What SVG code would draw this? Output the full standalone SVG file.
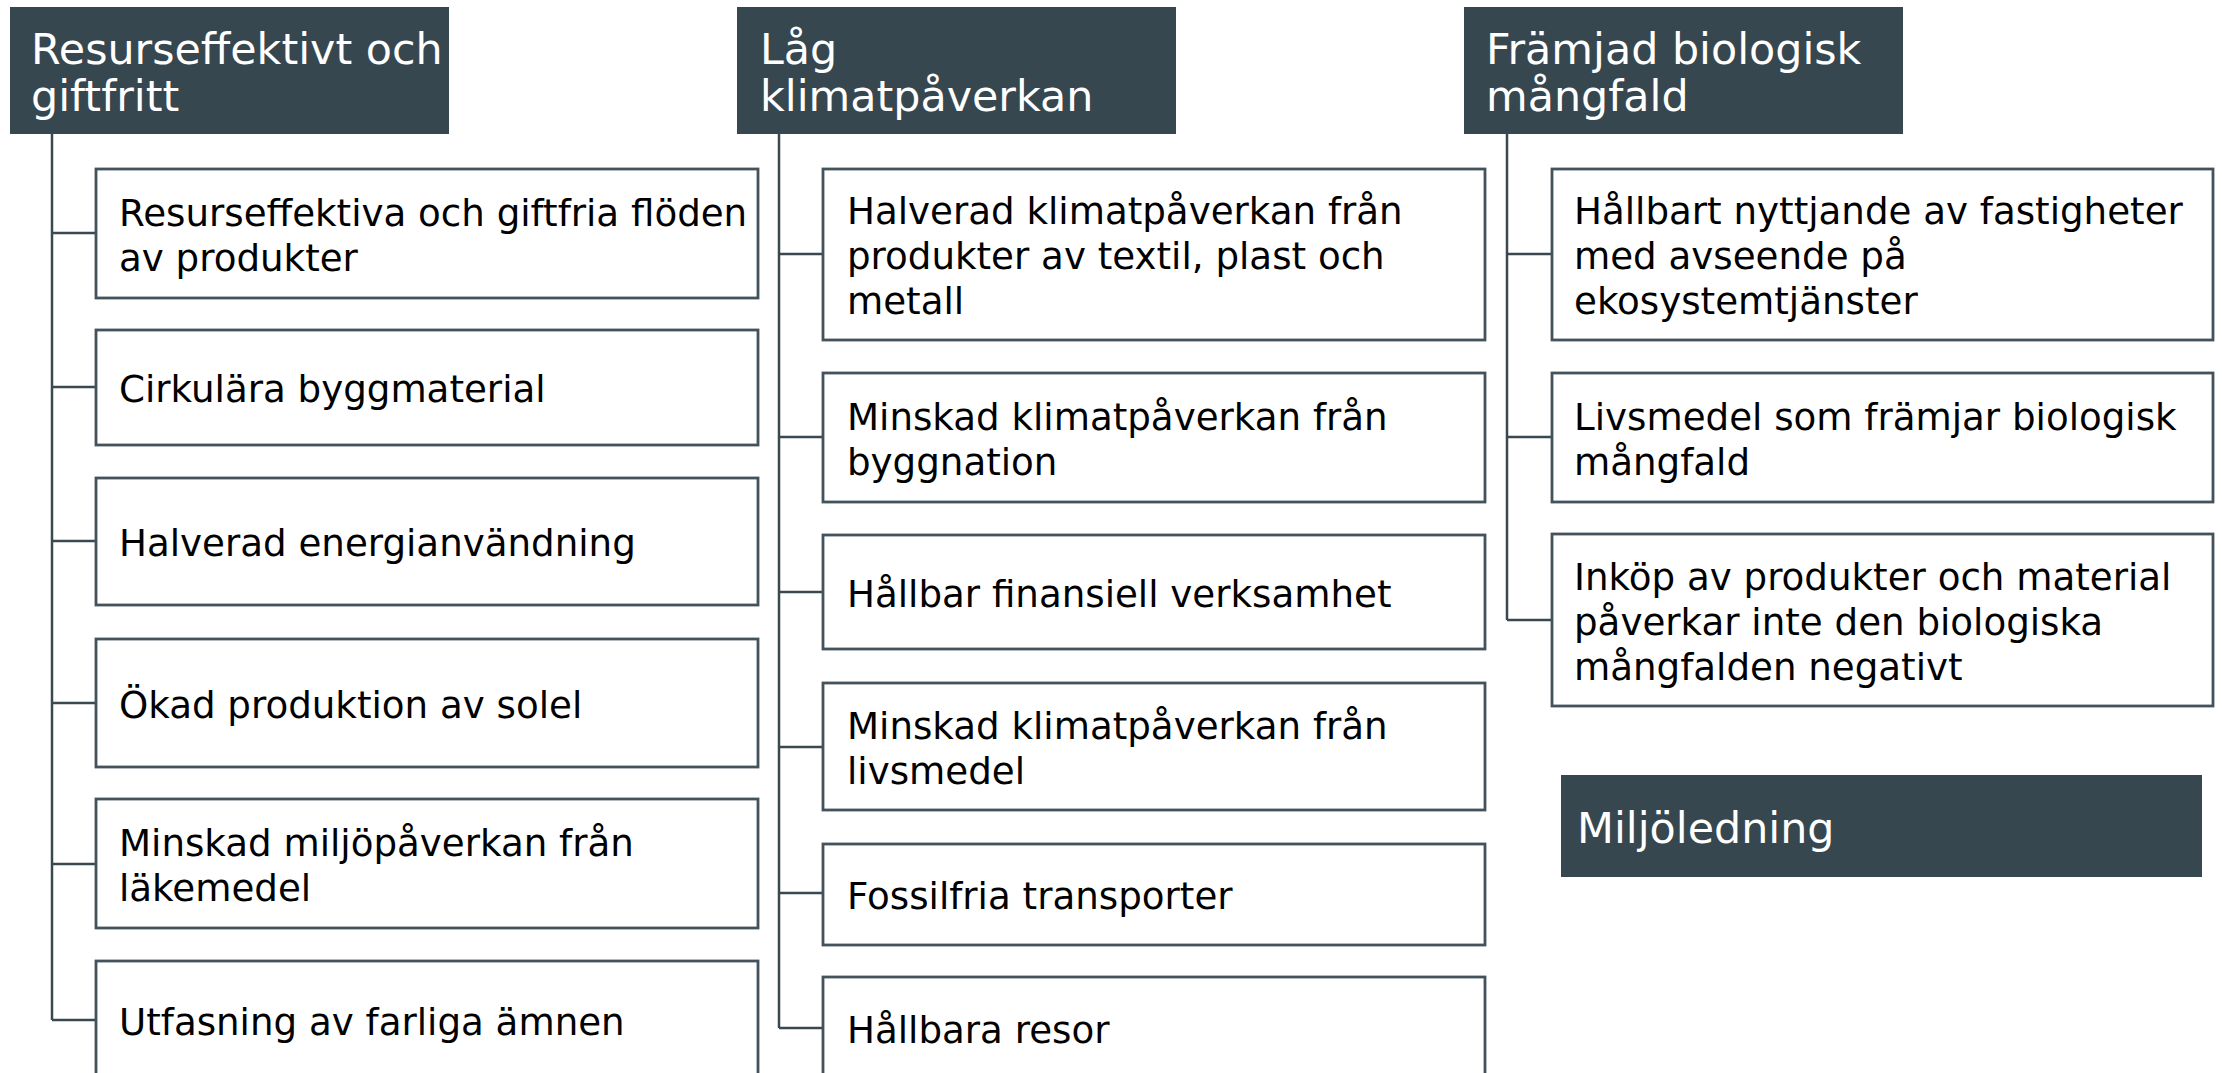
<svg xmlns="http://www.w3.org/2000/svg" width="2222" height="1073" viewBox="0 0 2222 1073">
<style>
.bg{fill:#ffffff}
.hdr{fill:#37474f}
.box{fill:#ffffff;stroke:#44525b;stroke-width:2.8}
.ht{font-family:"DejaVu Sans",Verdana,sans-serif;font-size:42.8px;fill:#ffffff}
.bt{font-family:"DejaVu Sans",Verdana,sans-serif;font-size:37.2px;fill:#000000}
.con{fill:none;stroke:#3a4850;stroke-width:2.5}
</style>
<rect class="bg" x="0" y="0" width="2222" height="1073"/>
<g id="connectors">
<path class="con" d="M52,134 V1020 M52,233 H96 M52,387 H96 M52,541 H96 M52,703 H96 M52,864 H96 M52,1020 H96"/>
<path class="con" d="M779,134 V1028 M779,254 H823 M779,437 H823 M779,592 H823 M779,747 H823 M779,893 H823 M779,1028 H823"/>
<path class="con" d="M1507,134 V620 M1507,254 H1552 M1507,437 H1552 M1507,620 H1552"/>
</g>
<g id="h1"><rect class="hdr" x="10" y="7" width="439" height="127"/><text class="ht" x="31" y="64">Resurseffektivt och</text><text class="ht" x="31" y="111">giftfritt</text></g>
<g id="h2"><rect class="hdr" x="737" y="7" width="439" height="127"/><text class="ht" x="760" y="64">Låg</text><text class="ht" x="760" y="111">klimatpåverkan</text></g>
<g id="h3"><rect class="hdr" x="1464" y="7" width="439" height="127"/><text class="ht" x="1486" y="64">Främjad biologisk</text><text class="ht" x="1486" y="111">mångfald</text></g>

<g id="c1b1"><rect class="box" x="96" y="169" width="662" height="129"/><text class="bt" x="119" y="226">Resurseffektiva och giftfria flöden</text><text class="bt" x="119" y="271">av produkter</text></g>
<g id="c1b2"><rect class="box" x="96" y="330" width="662" height="115"/><text class="bt" x="119" y="402">Cirkulära byggmaterial</text></g>
<g id="c1b3"><rect class="box" x="96" y="478" width="662" height="127"/><text class="bt" x="119" y="556">Halverad energianvändning</text></g>
<g id="c1b4"><rect class="box" x="96" y="639" width="662" height="128"/><text class="bt" x="119" y="718">Ökad produktion av solel</text></g>
<g id="c1b5"><rect class="box" x="96" y="799" width="662" height="129"/><text class="bt" x="119" y="856">Minskad miljöpåverkan från</text><text class="bt" x="119" y="901">läkemedel</text></g>
<g id="c1b6"><rect class="box" x="96" y="961" width="662" height="118"/><text class="bt" x="119" y="1035">Utfasning av farliga ämnen</text></g>

<g id="c2b1"><rect class="box" x="823" y="169" width="662" height="171"/><text class="bt" x="847" y="224">Halverad klimatpåverkan från</text><text class="bt" x="847" y="269">produkter av textil, plast och</text><text class="bt" x="847" y="314">metall</text></g>
<g id="c2b2"><rect class="box" x="823" y="373" width="662" height="129"/><text class="bt" x="847" y="430">Minskad klimatpåverkan från</text><text class="bt" x="847" y="475">byggnation</text></g>
<g id="c2b3"><rect class="box" x="823" y="535" width="662" height="114"/><text class="bt" x="847" y="607">Hållbar finansiell verksamhet</text></g>
<g id="c2b4"><rect class="box" x="823" y="683" width="662" height="127"/><text class="bt" x="847" y="739">Minskad klimatpåverkan från</text><text class="bt" x="847" y="784">livsmedel</text></g>
<g id="c2b5"><rect class="box" x="823" y="844" width="662" height="101"/><text class="bt" x="847" y="909">Fossilfria transporter</text></g>
<g id="c2b6"><rect class="box" x="823" y="977" width="662" height="102"/><text class="bt" x="847" y="1043">Hållbara resor</text></g>

<g id="c3b1"><rect class="box" x="1552" y="169" width="661" height="171"/><text class="bt" x="1574" y="224">Hållbart nyttjande av fastigheter</text><text class="bt" x="1574" y="269">med avseende på</text><text class="bt" x="1574" y="314">ekosystemtjänster</text></g>
<g id="c3b2"><rect class="box" x="1552" y="373" width="661" height="129"/><text class="bt" x="1574" y="430">Livsmedel som främjar biologisk</text><text class="bt" x="1574" y="475">mångfald</text></g>
<g id="c3b3"><rect class="box" x="1552" y="534" width="661" height="172"/><text class="bt" x="1574" y="590">Inköp av produkter och material</text><text class="bt" x="1574" y="635">påverkar inte den biologiska</text><text class="bt" x="1574" y="680">mångfalden negativt</text></g>

<g id="miljo"><rect class="hdr" x="1561" y="775" width="641" height="102"/><text class="ht" x="1577" y="843">Miljöledning</text></g>
</svg>
